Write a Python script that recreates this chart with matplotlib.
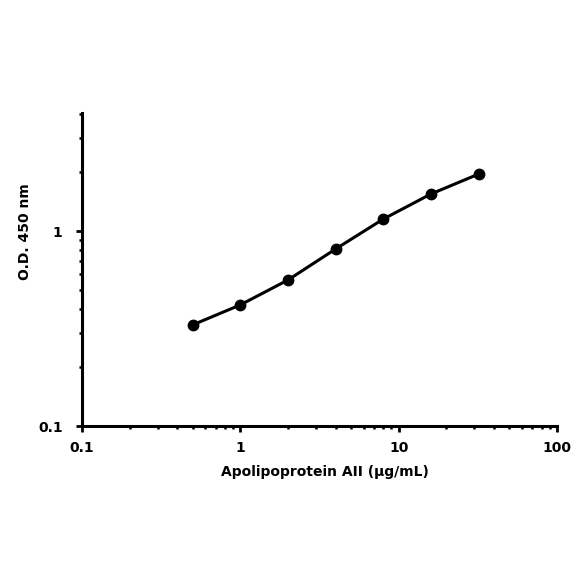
import matplotlib
matplotlib.use("Agg")
import matplotlib.pyplot as plt

conc = [0.5, 1, 2, 4, 8, 16, 32]
od = [0.330, 0.418, 0.561, 0.809, 1.152, 1.549, 1.96]
xticks = [0.1, 1, 10, 100]
xticklabels = ["0.1", "1", "10", "100"]
yticks = [0.1, 1]
yticklabels = ["0.1", "1"]

plt.rcParams['font.family'] = ['DejaVu Sans']
fig = plt.figure(figsize=(5.84, 5.84), dpi=100)
ax = fig.add_axes([82/584, 1-426/584, (557-82)/584, (426-113)/584])
ax.plot(conc, od, color='black', lw=2.2, marker='o', ms=7.5)
ax.set_xscale('log')
ax.set_yscale('log')
ax.set_xlim(0.1, 100)
ax.set_ylim(0.1, 4.03)
ax.set_xticks(xticks)
ax.set_xticklabels(xticklabels)
ax.set_yticks(yticks)
ax.set_yticklabels(yticklabels)
for s in ['top', 'right']:
    ax.spines[s].set_visible(False)
for s in ['left', 'bottom']:
    ax.spines[s].set_linewidth(2.2)
ax.tick_params(which='major', length=4, width=2, labelsize=10)
ax.tick_params(axis='x', which='major', pad=7)
ax.tick_params(axis='y', which='major', pad=10)
ax.tick_params(which='minor', length=2.5, width=1.8)
for lab in ax.get_xticklabels() + ax.get_yticklabels():
    lab.set_fontweight('bold')
ax.set_xlabel("Apolipoprotein AII (µg/mL)", fontsize=10, fontweight='bold')
ax.xaxis.set_label_coords((325-82)/475, -(472-426)/313)
ax.set_ylabel("O.D. 450 nm", fontsize=10, fontweight='bold')
ax.yaxis.set_label_coords((25-82)/475, (426-232)/313)
ax.yaxis.label.set_verticalalignment('center')
ax.xaxis.label.set_verticalalignment('center')
fig.savefig("out.png", dpi=100)
